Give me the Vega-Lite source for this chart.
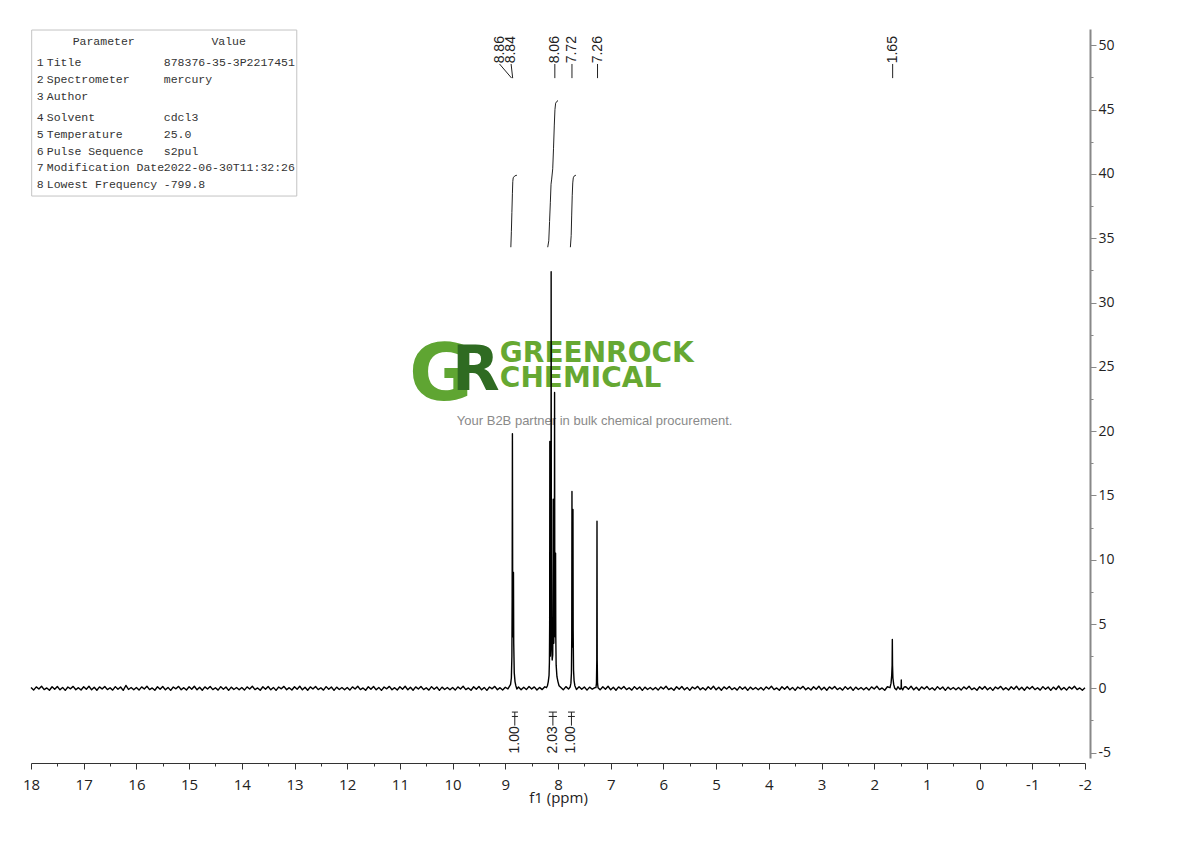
{
  "$schema": "https://vega.github.io/schema/vega-lite/v6.json",
  "width": 1054,
  "height": 729,
  "autosize": {"type": "none"},
  "padding": {"left": 31, "top": 29, "right": 105, "bottom": 83},
  "background": "white",
  "config": {"view": {"stroke": null}},
  "encoding": {
    "x": {
      "field": "x", "type": "quantitative",
      "scale": {"domain": [-2, 18], "reverse": true, "nice": false, "zero": false},
      "axis": {
        "title": "f1 (ppm)",
        "values": [-2,-1.5,-1,-0.5,0,0.5,1,1.5,2,2.5,3,3.5,4,4.5,5,5.5,6,6.5,7,7.5,8,8.5,9,9.5,10,10.5,11,11.5,12,12.5,13,13.5,14,14.5,15,15.5,16,16.5,17,17.5,18],
        "labelExpr": "datum.value % 1 === 0 ? '' + datum.value : ''",
        "tickSize": {"condition": {"test": "datum.value % 1 === 0", "value": 6}, "value": 3},
        "offset": 5, "grid": false,
        "domainColor": "#333", "tickColor": "#333",
        "labelFont": "Open Sans", "labelFontSize": 15, "labelColor": "#222", "labelPadding": 8,
        "labelFlush": false, "labelOverlap": false,
        "titleFont": "Open Sans", "titleFontSize": 15, "titleFontWeight": "normal", "titleColor": "#222", "titlePadding": -2
      }
    },
    "y": {
      "field": "y", "type": "quantitative",
      "scale": {"domain": [-5.42, 51.27], "nice": false, "zero": false},
      "axis": {
        "orient": "right", "title": null,
        "values": [-5,-2.5,0,2.5,5,7.5,10,12.5,15,17.5,20,22.5,25,27.5,30,32.5,35,37.5,40,42.5,45,47.5,50],
        "labelExpr": "datum.value % 5 === 0 ? '' + datum.value : ''",
        "tickSize": {"condition": {"test": "datum.value % 5 === 0", "value": 6}, "value": 3},
        "offset": 5, "grid": false,
        "domainColor": "#888", "domainWidth": 2, "tickColor": "#888",
        "labelFont": "Open Sans", "labelFontSize": 14, "labelColor": "#222", "labelPadding": 2,
        "labelFlush": false, "labelOverlap": false
      }
    }
  },
  "layer": [
    {
      "data": {"values": [{"x": 17.987, "x2": 12.957, "y": 51.19, "y2": 38.28}]},
      "mark": {"type": "rect", "fill": "white", "stroke": "#c4c4c4", "strokeWidth": 1},
      "encoding": {"x2": {"field": "x2"}, "y2": {"field": "y2"}}
    },
    {
      "data": {"values": [
        {"x": 16.62, "y": 50.23, "t": "Parameter"},
        {"x": 14.25, "y": 50.23, "t": "Value"}
      ]},
      "mark": {"type": "text", "align": "center", "baseline": "middle", "font": "Liberation Mono", "fontSize": 11.5, "color": "#333"},
      "encoding": {"text": {"field": "t"}}
    },
    {
      "data": {"values": [
        {"x": 17.89, "y": 48.62, "t": "1"}, {"x": 17.7, "y": 48.62, "t": "Title"}, {"x": 15.48, "y": 48.62, "t": "878376-35-3P2217451"},
        {"x": 17.89, "y": 47.28, "t": "2"}, {"x": 17.7, "y": 47.28, "t": "Spectrometer"}, {"x": 15.48, "y": 47.28, "t": "mercury"},
        {"x": 17.89, "y": 45.96, "t": "3"}, {"x": 17.7, "y": 45.96, "t": "Author"},
        {"x": 17.89, "y": 44.35, "t": "4"}, {"x": 17.7, "y": 44.35, "t": "Solvent"}, {"x": 15.48, "y": 44.35, "t": "cdcl3"},
        {"x": 17.89, "y": 43.0, "t": "5"}, {"x": 17.7, "y": 43.0, "t": "Temperature"}, {"x": 15.48, "y": 43.0, "t": "25.0"},
        {"x": 17.89, "y": 41.7, "t": "6"}, {"x": 17.7, "y": 41.7, "t": "Pulse Sequence"}, {"x": 15.48, "y": 41.7, "t": "s2pul"},
        {"x": 17.89, "y": 40.46, "t": "7"}, {"x": 17.7, "y": 40.46, "t": "Modification Date"}, {"x": 15.48, "y": 40.46, "t": "2022-06-30T11:32:26"},
        {"x": 17.89, "y": 39.16, "t": "8"}, {"x": 17.7, "y": 39.16, "t": "Lowest Frequency"}, {"x": 15.48, "y": 39.16, "t": "-799.8"}
      ]},
      "mark": {"type": "text", "align": "left", "baseline": "middle", "font": "Liberation Mono", "fontSize": 11.5, "color": "#333"},
      "encoding": {"text": {"field": "t"}}
    },
    {
      "data": {"values": [{"x": 10.22, "y": 22.42, "t": "G"}]},
      "mark": {"type": "text", "align": "center", "baseline": "alphabetic", "font": "DejaVu Sans", "fontWeight": "bold", "fontSize": 78, "color": "#5fa532"},
      "encoding": {"text": {"field": "t"}}
    },
    {
      "data": {"values": [{"x": 9.56, "y": 23.21, "t": "R"}]},
      "mark": {"type": "text", "align": "center", "baseline": "alphabetic", "font": "DejaVu Sans", "fontWeight": "bold", "fontSize": 62, "color": "#2f6b22"},
      "encoding": {"text": {"field": "t"}}
    },
    {
      "data": {"values": [{"x": 9.103, "y": 25.37, "t": "GREENROCK"}, {"x": 9.103, "y": 23.43, "t": "CHEMICAL"}]},
      "mark": {"type": "text", "align": "left", "baseline": "alphabetic", "font": "DejaVu Sans", "fontWeight": "bold", "fontSize": 28, "color": "#66a832"},
      "encoding": {"text": {"field": "t"}}
    },
    {
      "data": {"values": [{"x": 7.305, "y": 20.79, "t": "Your B2B partner in bulk chemical procurement."}]},
      "mark": {"type": "text", "align": "center", "baseline": "middle", "font": "Liberation Sans", "fontSize": 13, "color": "#8a8a8a"},
      "encoding": {"text": {"field": "t"}}
    },
    {
      "data": {"values": [
        {"x": 18.0, "y": 0.06}, {"x": 17.95, "y": -0.14}, {"x": 17.9, "y": 0.11}, {"x": 17.85, "y": -0.05}, {"x": 17.8, "y": 0.16},
        {"x": 17.75, "y": -0.1}, {"x": 17.7, "y": 0.03}, {"x": 17.65, "y": -0.15}, {"x": 17.6, "y": 0.12}, {"x": 17.55, "y": -0.08},
        {"x": 17.5, "y": 0.14}, {"x": 17.45, "y": -0.12}, {"x": 17.4, "y": 0.07}, {"x": 17.35, "y": -0.16}, {"x": 17.3, "y": 0.1},
        {"x": 17.25, "y": -0.04}, {"x": 17.2, "y": 0.15}, {"x": 17.15, "y": -0.11}, {"x": 17.1, "y": 0.05}, {"x": 17.05, "y": -0.13},
        {"x": 17.0, "y": 0.12}, {"x": 16.95, "y": -0.07}, {"x": 16.9, "y": 0.16}, {"x": 16.85, "y": -0.12}, {"x": 16.8, "y": 0.08},
        {"x": 16.75, "y": -0.15}, {"x": 16.7, "y": 0.11}, {"x": 16.65, "y": -0.06}, {"x": 16.6, "y": 0.14}, {"x": 16.55, "y": -0.1},
        {"x": 16.5, "y": 0.04}, {"x": 16.45, "y": -0.14}, {"x": 16.4, "y": 0.13}, {"x": 16.35, "y": -0.08}, {"x": 16.3, "y": 0.1},
        {"x": 16.25, "y": -0.16}, {"x": 16.2, "y": 0.22}, {"x": 16.15, "y": -0.09}, {"x": 16.1, "y": 0.06}, {"x": 16.05, "y": -0.12},
        {"x": 16.0, "y": 0.06}, {"x": 15.95, "y": -0.14}, {"x": 15.9, "y": 0.11}, {"x": 15.85, "y": -0.05}, {"x": 15.8, "y": 0.16},
        {"x": 15.75, "y": -0.1}, {"x": 15.7, "y": 0.03}, {"x": 15.65, "y": -0.15}, {"x": 15.6, "y": 0.12}, {"x": 15.55, "y": -0.08},
        {"x": 15.5, "y": 0.14}, {"x": 15.45, "y": -0.12}, {"x": 15.4, "y": 0.07}, {"x": 15.35, "y": -0.16}, {"x": 15.3, "y": 0.1},
        {"x": 15.25, "y": -0.04}, {"x": 15.2, "y": 0.15}, {"x": 15.15, "y": -0.11}, {"x": 15.1, "y": 0.05}, {"x": 15.05, "y": -0.13},
        {"x": 15.0, "y": 0.12}, {"x": 14.95, "y": -0.07}, {"x": 14.9, "y": 0.16}, {"x": 14.85, "y": -0.12}, {"x": 14.8, "y": 0.08},
        {"x": 14.75, "y": -0.15}, {"x": 14.7, "y": 0.11}, {"x": 14.65, "y": -0.06}, {"x": 14.6, "y": 0.14}, {"x": 14.55, "y": -0.1},
        {"x": 14.5, "y": 0.04}, {"x": 14.45, "y": -0.14}, {"x": 14.4, "y": 0.13}, {"x": 14.35, "y": -0.08}, {"x": 14.3, "y": 0.1},
        {"x": 14.25, "y": -0.16}, {"x": 14.2, "y": 0.09}, {"x": 14.15, "y": -0.09}, {"x": 14.1, "y": 0.06}, {"x": 14.05, "y": -0.12},
        {"x": 14.0, "y": 0.06}, {"x": 13.95, "y": -0.14}, {"x": 13.9, "y": 0.11}, {"x": 13.85, "y": -0.05}, {"x": 13.8, "y": 0.16},
        {"x": 13.75, "y": -0.1}, {"x": 13.7, "y": 0.03}, {"x": 13.65, "y": -0.15}, {"x": 13.6, "y": 0.12}, {"x": 13.55, "y": -0.08},
        {"x": 13.5, "y": 0.14}, {"x": 13.45, "y": -0.12}, {"x": 13.4, "y": 0.07}, {"x": 13.35, "y": -0.16}, {"x": 13.3, "y": 0.1},
        {"x": 13.25, "y": -0.04}, {"x": 13.2, "y": 0.15}, {"x": 13.15, "y": -0.11}, {"x": 13.1, "y": 0.05}, {"x": 13.05, "y": -0.13},
        {"x": 13.0, "y": 0.12}, {"x": 12.95, "y": -0.07}, {"x": 12.9, "y": 0.16}, {"x": 12.85, "y": -0.12}, {"x": 12.8, "y": 0.08},
        {"x": 12.75, "y": -0.15}, {"x": 12.7, "y": 0.11}, {"x": 12.65, "y": -0.06}, {"x": 12.6, "y": 0.14}, {"x": 12.55, "y": -0.1},
        {"x": 12.5, "y": 0.04}, {"x": 12.45, "y": -0.14}, {"x": 12.4, "y": 0.13}, {"x": 12.35, "y": -0.08}, {"x": 12.3, "y": 0.1},
        {"x": 12.25, "y": -0.16}, {"x": 12.2, "y": 0.09}, {"x": 12.15, "y": -0.09}, {"x": 12.1, "y": 0.06}, {"x": 12.05, "y": -0.12},
        {"x": 12.0, "y": 0.06}, {"x": 11.95, "y": -0.14}, {"x": 11.9, "y": 0.11}, {"x": 11.85, "y": -0.05}, {"x": 11.8, "y": 0.16},
        {"x": 11.75, "y": -0.1}, {"x": 11.7, "y": 0.03}, {"x": 11.65, "y": -0.15}, {"x": 11.6, "y": 0.12}, {"x": 11.55, "y": -0.08},
        {"x": 11.5, "y": 0.14}, {"x": 11.45, "y": -0.12}, {"x": 11.4, "y": 0.07}, {"x": 11.35, "y": -0.16}, {"x": 11.3, "y": 0.1},
        {"x": 11.25, "y": -0.04}, {"x": 11.2, "y": 0.15}, {"x": 11.15, "y": -0.11}, {"x": 11.1, "y": 0.05}, {"x": 11.05, "y": -0.13},
        {"x": 11.0, "y": 0.12}, {"x": 10.95, "y": -0.07}, {"x": 10.9, "y": 0.16}, {"x": 10.85, "y": -0.12}, {"x": 10.8, "y": 0.08},
        {"x": 10.75, "y": -0.15}, {"x": 10.7, "y": 0.11}, {"x": 10.65, "y": -0.06}, {"x": 10.6, "y": 0.14}, {"x": 10.55, "y": -0.1},
        {"x": 10.5, "y": 0.04}, {"x": 10.45, "y": -0.14}, {"x": 10.4, "y": 0.13}, {"x": 10.35, "y": -0.08}, {"x": 10.3, "y": 0.1},
        {"x": 10.25, "y": -0.16}, {"x": 10.2, "y": 0.09}, {"x": 10.15, "y": -0.09}, {"x": 10.1, "y": 0.06}, {"x": 10.05, "y": -0.12},
        {"x": 10.0, "y": 0.06}, {"x": 9.95, "y": -0.14}, {"x": 9.9, "y": 0.11}, {"x": 9.85, "y": -0.05}, {"x": 9.8, "y": 0.16},
        {"x": 9.75, "y": -0.1}, {"x": 9.7, "y": 0.03}, {"x": 9.65, "y": -0.15}, {"x": 9.6, "y": 0.12}, {"x": 9.55, "y": -0.08},
        {"x": 9.5, "y": 0.14}, {"x": 9.45, "y": -0.12}, {"x": 9.4, "y": 0.07}, {"x": 9.35, "y": -0.16}, {"x": 9.3, "y": 0.1},
        {"x": 9.25, "y": -0.04}, {"x": 9.2, "y": 0.15}, {"x": 9.15, "y": -0.11}, {"x": 9.1, "y": 0.05}, {"x": 9.05, "y": -0.13},
        {"x": 9.0, "y": 0.08}, {"x": 8.95, "y": -0.05},
        {"x": 8.9, "y": 0.3}, {"x": 8.885, "y": 0.8}, {"x": 8.875, "y": 2.5}, {"x": 8.87, "y": 7}, {"x": 8.865, "y": 19.8},
        {"x": 8.86, "y": 8}, {"x": 8.855, "y": 4}, {"x": 8.85, "y": 4.5}, {"x": 8.845, "y": 9.0}, {"x": 8.84, "y": 3.5},
        {"x": 8.83, "y": 1.2}, {"x": 8.815, "y": 0.5}, {"x": 8.8, "y": 0.2}, {"x": 8.78, "y": -0.05},
        {"x": 8.75, "y": 0.1}, {"x": 8.7, "y": -0.12}, {"x": 8.65, "y": 0.08}, {"x": 8.6, "y": -0.1}, {"x": 8.55, "y": 0.14},
        {"x": 8.5, "y": -0.06}, {"x": 8.45, "y": 0.11}, {"x": 8.4, "y": -0.13}, {"x": 8.35, "y": 0.07}, {"x": 8.3, "y": -0.1},
        {"x": 8.25, "y": 0.12},
        {"x": 8.22, "y": 0.05}, {"x": 8.2, "y": 0.2}, {"x": 8.185, "y": 0.5}, {"x": 8.17, "y": 1.0}, {"x": 8.163, "y": 2.0},
        {"x": 8.158, "y": 5}, {"x": 8.155, "y": 19.2}, {"x": 8.151, "y": 6}, {"x": 8.145, "y": 2.5}, {"x": 8.138, "y": 4},
        {"x": 8.133, "y": 10}, {"x": 8.13, "y": 32.4}, {"x": 8.126, "y": 10}, {"x": 8.12, "y": 3.5}, {"x": 8.11, "y": 2.2},
        {"x": 8.1, "y": 2.6}, {"x": 8.095, "y": 5}, {"x": 8.091, "y": 14.7}, {"x": 8.087, "y": 5.5}, {"x": 8.08, "y": 3.5},
        {"x": 8.072, "y": 6}, {"x": 8.068, "y": 12}, {"x": 8.065, "y": 23.0}, {"x": 8.061, "y": 8}, {"x": 8.055, "y": 4},
        {"x": 8.05, "y": 5}, {"x": 8.046, "y": 10.5}, {"x": 8.042, "y": 4}, {"x": 8.035, "y": 1.8}, {"x": 8.02, "y": 0.9},
        {"x": 8.0, "y": 0.5}, {"x": 7.98, "y": 0.2},
        {"x": 7.95, "y": 0.08}, {"x": 7.9, "y": -0.12}, {"x": 7.85, "y": 0.13}, {"x": 7.8, "y": -0.06},
        {"x": 7.77, "y": 0.1}, {"x": 7.755, "y": 0.4}, {"x": 7.745, "y": 1.2}, {"x": 7.739, "y": 4}, {"x": 7.735, "y": 15.3},
        {"x": 7.731, "y": 5.5}, {"x": 7.726, "y": 3.2}, {"x": 7.72, "y": 4.5}, {"x": 7.716, "y": 13.9}, {"x": 7.712, "y": 4.5},
        {"x": 7.705, "y": 1.4}, {"x": 7.695, "y": 0.6}, {"x": 7.68, "y": 0.2},
        {"x": 7.65, "y": -0.1}, {"x": 7.6, "y": 0.12}, {"x": 7.55, "y": -0.08}, {"x": 7.5, "y": 0.1}, {"x": 7.45, "y": -0.14},
        {"x": 7.4, "y": 0.09}, {"x": 7.35, "y": -0.07}, {"x": 7.3, "y": 0.05},
        {"x": 7.28, "y": 0.05}, {"x": 7.27, "y": 0.4}, {"x": 7.264, "y": 2.2}, {"x": 7.26, "y": 13.0}, {"x": 7.256, "y": 2.2},
        {"x": 7.25, "y": 0.4}, {"x": 7.24, "y": 0.05},
        {"x": 7.2, "y": -0.12}, {"x": 7.15, "y": 0.12}, {"x": 7.1, "y": -0.07}, {"x": 7.05, "y": 0.16}, {"x": 7.0, "y": -0.12},
        {"x": 6.95, "y": 0.08}, {"x": 6.9, "y": -0.15}, {"x": 6.85, "y": 0.11}, {"x": 6.8, "y": -0.06}, {"x": 6.75, "y": 0.14},
        {"x": 6.7, "y": -0.1}, {"x": 6.65, "y": 0.04}, {"x": 6.6, "y": -0.14}, {"x": 6.55, "y": 0.13}, {"x": 6.5, "y": -0.08},
        {"x": 6.45, "y": 0.1}, {"x": 6.4, "y": -0.16}, {"x": 6.35, "y": 0.09}, {"x": 6.3, "y": -0.09}, {"x": 6.25, "y": 0.06},
        {"x": 6.2, "y": -0.12}, {"x": 6.15, "y": 0.06}, {"x": 6.1, "y": -0.14}, {"x": 6.05, "y": 0.11}, {"x": 6.0, "y": -0.05},
        {"x": 5.95, "y": 0.16}, {"x": 5.9, "y": -0.1}, {"x": 5.85, "y": 0.03}, {"x": 5.8, "y": -0.15}, {"x": 5.75, "y": 0.12},
        {"x": 5.7, "y": -0.08}, {"x": 5.65, "y": 0.14}, {"x": 5.6, "y": -0.12}, {"x": 5.55, "y": 0.07}, {"x": 5.5, "y": -0.16},
        {"x": 5.45, "y": 0.1}, {"x": 5.4, "y": -0.04}, {"x": 5.35, "y": 0.15}, {"x": 5.3, "y": -0.11}, {"x": 5.25, "y": 0.05},
        {"x": 5.2, "y": -0.13}, {"x": 5.15, "y": 0.12}, {"x": 5.1, "y": -0.07}, {"x": 5.05, "y": 0.16}, {"x": 5.0, "y": -0.12},
        {"x": 4.95, "y": 0.08}, {"x": 4.9, "y": -0.15}, {"x": 4.85, "y": 0.11}, {"x": 4.8, "y": -0.06}, {"x": 4.75, "y": 0.14},
        {"x": 4.7, "y": -0.1}, {"x": 4.65, "y": 0.04}, {"x": 4.6, "y": -0.14}, {"x": 4.55, "y": 0.13}, {"x": 4.5, "y": -0.08},
        {"x": 4.45, "y": 0.1}, {"x": 4.4, "y": -0.16}, {"x": 4.35, "y": 0.09}, {"x": 4.3, "y": -0.09}, {"x": 4.25, "y": 0.06},
        {"x": 4.2, "y": -0.12}, {"x": 4.15, "y": 0.06}, {"x": 4.1, "y": -0.14}, {"x": 4.05, "y": 0.11}, {"x": 4.0, "y": -0.05},
        {"x": 3.95, "y": 0.16}, {"x": 3.9, "y": -0.1}, {"x": 3.85, "y": 0.03}, {"x": 3.8, "y": -0.15}, {"x": 3.75, "y": 0.12},
        {"x": 3.7, "y": -0.08}, {"x": 3.65, "y": 0.14}, {"x": 3.6, "y": -0.12}, {"x": 3.55, "y": 0.07}, {"x": 3.5, "y": -0.16},
        {"x": 3.45, "y": 0.1}, {"x": 3.4, "y": -0.04}, {"x": 3.35, "y": 0.15}, {"x": 3.3, "y": -0.11}, {"x": 3.25, "y": 0.05},
        {"x": 3.2, "y": -0.13}, {"x": 3.15, "y": 0.12}, {"x": 3.1, "y": -0.07}, {"x": 3.05, "y": 0.16}, {"x": 3.0, "y": -0.12},
        {"x": 2.95, "y": 0.08}, {"x": 2.9, "y": -0.15}, {"x": 2.85, "y": 0.11}, {"x": 2.8, "y": -0.06}, {"x": 2.75, "y": 0.14},
        {"x": 2.7, "y": -0.1}, {"x": 2.65, "y": 0.04}, {"x": 2.6, "y": -0.14}, {"x": 2.55, "y": 0.13}, {"x": 2.5, "y": -0.08},
        {"x": 2.45, "y": 0.1}, {"x": 2.4, "y": -0.16}, {"x": 2.35, "y": 0.09}, {"x": 2.3, "y": -0.09}, {"x": 2.25, "y": 0.06},
        {"x": 2.2, "y": -0.12}, {"x": 2.15, "y": 0.06}, {"x": 2.1, "y": -0.14}, {"x": 2.05, "y": 0.11}, {"x": 2.0, "y": -0.05},
        {"x": 1.95, "y": 0.16}, {"x": 1.9, "y": -0.1}, {"x": 1.85, "y": 0.03}, {"x": 1.8, "y": -0.15}, {"x": 1.75, "y": 0.12},
        {"x": 1.7, "y": 0.05}, {"x": 1.68, "y": 0.4}, {"x": 1.668, "y": 1.0}, {"x": 1.66, "y": 1.8}, {"x": 1.656, "y": 3.8},
        {"x": 1.652, "y": 1.8}, {"x": 1.645, "y": 0.8}, {"x": 1.63, "y": 0.3}, {"x": 1.61, "y": 0.0}, {"x": 1.58, "y": -0.12},
        {"x": 1.55, "y": 0.12}, {"x": 1.51, "y": -0.08}, {"x": 1.489, "y": 0.05}, {"x": 1.486, "y": 0.65}, {"x": 1.483, "y": 0.05},
        {"x": 1.46, "y": -0.12}, {"x": 1.43, "y": 0.1},
        {"x": 1.4, "y": 0.12}, {"x": 1.35, "y": -0.07}, {"x": 1.3, "y": 0.16}, {"x": 1.25, "y": -0.12}, {"x": 1.2, "y": 0.08},
        {"x": 1.15, "y": -0.15}, {"x": 1.1, "y": 0.11}, {"x": 1.05, "y": -0.06}, {"x": 1.0, "y": 0.14}, {"x": 0.95, "y": -0.1},
        {"x": 0.9, "y": 0.04}, {"x": 0.85, "y": -0.14}, {"x": 0.8, "y": 0.13}, {"x": 0.75, "y": -0.08}, {"x": 0.7, "y": 0.1},
        {"x": 0.65, "y": -0.16}, {"x": 0.6, "y": 0.09}, {"x": 0.55, "y": -0.09}, {"x": 0.5, "y": 0.06}, {"x": 0.45, "y": -0.12},
        {"x": 0.4, "y": 0.06}, {"x": 0.35, "y": -0.14}, {"x": 0.3, "y": 0.11}, {"x": 0.25, "y": -0.05}, {"x": 0.2, "y": 0.16},
        {"x": 0.15, "y": -0.1}, {"x": 0.1, "y": 0.03}, {"x": 0.05, "y": -0.15}, {"x": 0.0, "y": 0.12}, {"x": -0.05, "y": -0.08},
        {"x": -0.1, "y": 0.14}, {"x": -0.15, "y": -0.12}, {"x": -0.2, "y": 0.07}, {"x": -0.25, "y": -0.16}, {"x": -0.3, "y": 0.1},
        {"x": -0.35, "y": -0.04}, {"x": -0.4, "y": 0.15}, {"x": -0.45, "y": -0.11}, {"x": -0.5, "y": 0.05}, {"x": -0.55, "y": -0.13},
        {"x": -0.6, "y": 0.12}, {"x": -0.65, "y": -0.07}, {"x": -0.7, "y": 0.16}, {"x": -0.75, "y": -0.12}, {"x": -0.8, "y": 0.08},
        {"x": -0.85, "y": -0.15}, {"x": -0.9, "y": 0.11}, {"x": -0.95, "y": -0.06}, {"x": -1.0, "y": 0.14}, {"x": -1.05, "y": -0.1},
        {"x": -1.1, "y": 0.04}, {"x": -1.15, "y": -0.14}, {"x": -1.2, "y": 0.13}, {"x": -1.25, "y": -0.08}, {"x": -1.3, "y": 0.1},
        {"x": -1.35, "y": -0.16}, {"x": -1.4, "y": 0.09}, {"x": -1.45, "y": -0.09}, {"x": -1.5, "y": 0.18}, {"x": -1.55, "y": -0.12},
        {"x": -1.6, "y": 0.06}, {"x": -1.65, "y": -0.14}, {"x": -1.7, "y": 0.11}, {"x": -1.75, "y": -0.05}, {"x": -1.8, "y": 0.16},
        {"x": -1.85, "y": -0.1}, {"x": -1.9, "y": 0.03}, {"x": -1.95, "y": -0.15}, {"x": -2.0, "y": 0.04}
      ]},
      "mark": {"type": "line", "color": "black", "strokeWidth": 1.4, "strokeJoin": "round"}
    },
    {
      "data": {"values": [
        {"g": 1, "x": 8.895, "y": 34.3}, {"g": 1, "x": 8.885, "y": 35.5}, {"g": 1, "x": 8.875, "y": 37.0}, {"g": 1, "x": 8.865, "y": 38.5},
        {"g": 1, "x": 8.858, "y": 39.4}, {"g": 1, "x": 8.85, "y": 39.7}, {"g": 1, "x": 8.82, "y": 39.85}, {"g": 1, "x": 8.78, "y": 39.9},
        {"g": 2, "x": 8.195, "y": 34.3}, {"g": 2, "x": 8.175, "y": 34.8}, {"g": 2, "x": 8.16, "y": 36.3}, {"g": 2, "x": 8.145, "y": 37.8},
        {"g": 2, "x": 8.132, "y": 39.2}, {"g": 2, "x": 8.12, "y": 39.6}, {"g": 2, "x": 8.1, "y": 40.4}, {"g": 2, "x": 8.085, "y": 42.0},
        {"g": 2, "x": 8.07, "y": 43.8}, {"g": 2, "x": 8.058, "y": 45.0}, {"g": 2, "x": 8.045, "y": 45.5}, {"g": 2, "x": 8.02, "y": 45.65},
        {"g": 2, "x": 8.0, "y": 45.7},
        {"g": 3, "x": 7.765, "y": 34.3}, {"g": 3, "x": 7.75, "y": 35.2}, {"g": 3, "x": 7.74, "y": 36.8}, {"g": 3, "x": 7.73, "y": 38.3},
        {"g": 3, "x": 7.72, "y": 39.3}, {"g": 3, "x": 7.71, "y": 39.7}, {"g": 3, "x": 7.69, "y": 39.85}, {"g": 3, "x": 7.66, "y": 39.9}
      ]},
      "mark": {"type": "line", "color": "#222", "strokeWidth": 1},
      "encoding": {"detail": {"field": "g", "type": "nominal"}}
    },
    {
      "data": {"values": [
        {"x": 9.11, "y": 48.55, "x2": 8.88, "y2": 47.45},
        {"x": 8.89, "y": 48.55, "x2": 8.86, "y2": 47.45},
        {"x": 8.06, "y": 48.55, "x2": 8.06, "y2": 47.45},
        {"x": 7.735, "y": 48.55, "x2": 7.735, "y2": 47.45},
        {"x": 7.25, "y": 48.55, "x2": 7.25, "y2": 47.45},
        {"x": 1.65, "y": 48.55, "x2": 1.65, "y2": 47.45},
        {"x": 8.875, "y": -1.85, "x2": 8.76, "y2": -1.85},
        {"x": 8.875, "y": -2.19, "x2": 8.76, "y2": -2.19},
        {"x": 8.82, "y": -1.85, "x2": 8.82, "y2": -2.9},
        {"x": 8.175, "y": -1.85, "x2": 8.02, "y2": -1.85},
        {"x": 8.175, "y": -2.19, "x2": 8.02, "y2": -2.19},
        {"x": 8.097, "y": -1.85, "x2": 8.097, "y2": -2.9},
        {"x": 7.81, "y": -1.85, "x2": 7.68, "y2": -1.85},
        {"x": 7.81, "y": -2.19, "x2": 7.68, "y2": -2.19},
        {"x": 7.745, "y": -1.85, "x2": 7.745, "y2": -2.9}
      ]},
      "mark": {"type": "rule", "color": "#222", "strokeWidth": 1},
      "encoding": {"x2": {"field": "x2"}, "y2": {"field": "y2"}}
    },
    {
      "data": {"values": [
        {"x": 9.11, "y": 48.6, "t": "8.86"},
        {"x": 8.89, "y": 48.6, "t": "8.84"},
        {"x": 8.06, "y": 48.6, "t": "8.06"},
        {"x": 7.735, "y": 48.6, "t": "7.72"},
        {"x": 7.25, "y": 48.6, "t": "7.26"},
        {"x": 1.65, "y": 48.6, "t": "1.65"}
      ]},
      "mark": {"type": "text", "angle": 270, "align": "left", "baseline": "middle", "font": "Liberation Sans", "fontSize": 14, "color": "#222"},
      "encoding": {"text": {"field": "t"}}
    },
    {
      "data": {"values": [
        {"x": 8.82, "y": -2.95, "t": "1.00"},
        {"x": 8.097, "y": -2.95, "t": "2.03"},
        {"x": 7.745, "y": -2.95, "t": "1.00"}
      ]},
      "mark": {"type": "text", "angle": 270, "align": "right", "baseline": "middle", "font": "Liberation Sans", "fontSize": 14, "color": "#222"},
      "encoding": {"text": {"field": "t"}}
    }
  ]
}
